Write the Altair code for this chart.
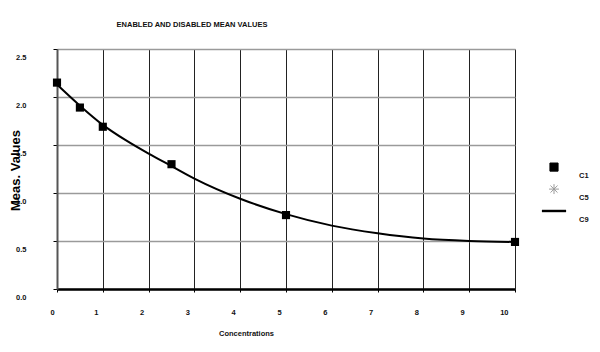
import altair as alt
import pandas as pd

# Measured points (series C1)
conc = [0, 0.5, 1, 2.5, 5, 10]
meas = [2.15, 1.89, 1.69, 1.30, 0.77, 0.49]
# Fitted curve (series C9)
curve_x = [0, 0.5, 1, 1.5, 2, 2.5, 3, 4, 5, 6, 7, 8, 9, 10]
curve_y = [2.13, 1.91, 1.71, 1.55, 1.41, 1.28, 1.15, 0.94, 0.78, 0.66, 0.58, 0.525, 0.50, 0.49]
series = ["C1", "C5", "C9"]
x_ticks = list(range(0, 11))
y_ticks = [0.0, 0.5, 1.0, 1.5, 2.0, 2.5]

FONT = "Liberation Sans"
# symbol paths in unit coords (scaled by sqrt(size)/2 = 11 px)
SQUARE = "M-0.37,-0.37H0.37V0.37H-0.37Z"
SQUARE_LEG = "M-0.37,-0.77H0.37V-0.03H-0.37Z"
ASTERISK_LEG = "M-0.45,-0.4H0.45M0,-0.85V0.05M-0.32,-0.72L0.32,-0.08M-0.32,-0.08L0.32,-0.72"
LINE_LEG = "M-1.1,-0.52H1.1V-0.3H-1.1Z"

pts = pd.DataFrame({"x": conc, "y": meas, "series": "C1"})
crv = pd.DataFrame({"x": curve_x, "y": curve_y})

x_enc = alt.X(
    "x:Q",
    scale=alt.Scale(domain=[0, 10], nice=False, zero=False),
    axis=alt.Axis(
        values=x_ticks, format="d", title="Concentrations",
        titleX=189, titleY=44, titleAlign="center", titleBaseline="middle",
        titleFont=FONT, titleFontSize=7.5, titleFontWeight="bold", titleColor="#111",
        labelFont=FONT, labelFontSize=7.5, labelFontWeight="bold", labelColor="#111",
        labelOffset=-7, labelPadding=16, tickSize=3, tickColor="#000",
        domainColor="#000", domainWidth=2.5,
        grid=True, gridColor="#222", gridWidth=1,
    ),
)
y_enc = alt.Y(
    "y:Q",
    scale=alt.Scale(domain=[0, 2.5], nice=False, zero=False),
    axis=alt.Axis(
        values=y_ticks, format=".1f", title="Meas. Values",
        titleX=-42, titleY=121, titleAngle=270, titleAlign="center", titleBaseline="middle",
        titleFont=FONT, titleFontSize=13, titleFontWeight="bold", titleColor="#000",
        labelFont=FONT, labelFontSize=7.5, labelFontWeight="bold", labelColor="#111",
        labelOffset=8, labelPadding=27, labelAlign="right", tickSize=4, tickColor="#000",
        domainColor="#555", domainWidth=2,
        grid=True, gridColor="#9a9a9a", gridWidth=1.5,
    ),
)

legend = alt.Legend(
    orient="none", legendX=485.5, legendY=111, title=None,
    labelFont=FONT, labelFontSize=7.5, labelFontWeight="bold", labelColor="#111",
    labelBaseline="top", labelOffset=13.5, rowPadding=3, padding=0,
    symbolSize=484, symbolStrokeWidth=1,
)

line = alt.Chart(crv).mark_line(
    color="#000", strokeWidth=2, interpolate="monotone"
).encode(x=x_enc, y=y_enc)

# on-chart points: plain squares
points = alt.Chart(pts).mark_point(
    opacity=1, clip=False, shape=SQUARE, size=484, filled=True, color="#000"
).encode(x=x_enc, y=y_enc)

# legend carrier: draws nothing (all rows filtered out), only provides the legend
legend_layer = alt.Chart(pts).transform_filter("datum.x < -1").mark_point(
    opacity=1, size=484, strokeWidth=1
).encode(
    x=x_enc,
    y=y_enc,
    shape=alt.Shape("series:N", scale=alt.Scale(domain=series, range=[SQUARE_LEG, ASTERISK_LEG, LINE_LEG]), legend=legend),
    fill=alt.Fill("series:N", scale=alt.Scale(domain=series, range=["#000", "transparent", "#000"]), legend=legend),
    stroke=alt.Stroke("series:N", scale=alt.Scale(domain=series, range=["#000", "#9a9a9a", "transparent"]), legend=legend),
)

chart = alt.layer(line, points, legend_layer).properties(
    width=458, height=240,
    title=alt.TitleParams(
        "ENABLED AND DISABLED MEAN VALUES", font=FONT, fontSize=7.5, fontWeight="bold",
        color="#111", anchor="middle", dx=-94, offset=20,
    ),
    autosize=alt.AutoSizeParams(type="none"),
    padding={"left": 57, "top": 49, "right": 85, "bottom": 63},
).configure_view(stroke="#000", strokeWidth=1).configure(background="white")

chart.save("out.html", embed_options={"renderer": "svg", "actions": False})
